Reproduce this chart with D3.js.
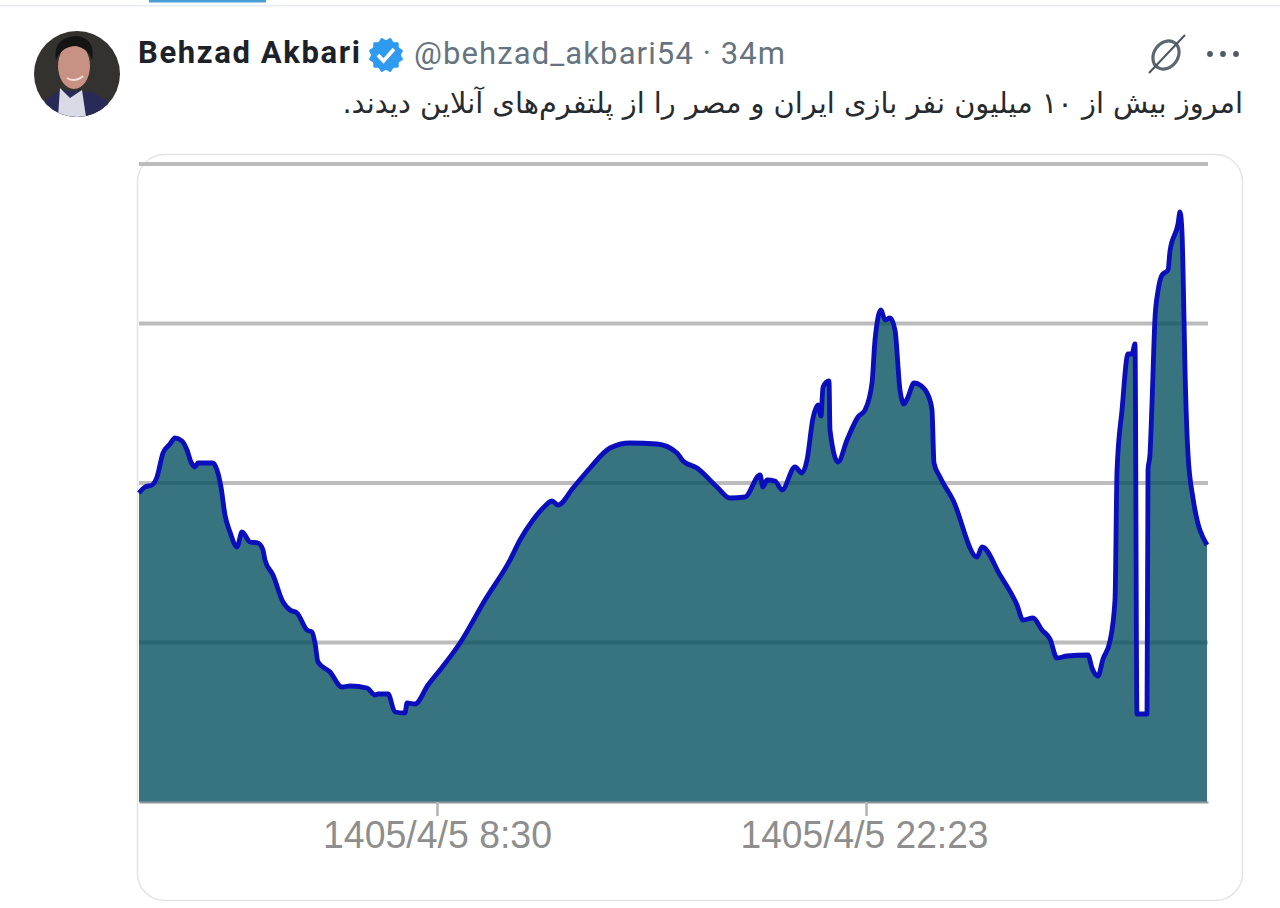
<!DOCTYPE html>
<html><head><meta charset="utf-8">
<script src="https://cdn.jsdelivr.net/npm/d3@7"></script>
<style>html,body{margin:0;padding:0;background:#fff;overflow:hidden}svg{display:block}</style>
</head><body><svg id="c" width="1280" height="908"></svg>
<script>
const sampleIndex=[0,6,13,18,24,31,36,43,48,52,56,59,74,78,82,86,91,98,103,111,119,124,126,134,144,151,158,168,173,176,179,191,203,211,228,236,239,249,256,266,268,276,289,301,321,346,371,381,394,406,413,419,434,451,471,491,518,538,544,558,578,591,606,621,624,628,636,643,656,663,668,674,679,682,684,690,691,699,708,719,726,733,736,742,746,751,756,761,765,769,775,781,789,793,795,801,814,838,843,861,878,884,894,903,911,918,928,949,953,959,964,971,976,978,983,989,993,996,998,1008,1009,1011,1013,1016,1019,1023,1029,1031,1039,1041,1043,1044,1046,1049,1054,1068];
const traffic=[309,315,317,325,349,358,364,361,352,340,335,339,339,332,315,287,270,255,270,260,259,252,242,227,200,192,189,172,170,159,140,130,115,116,114,107,108,108,90,89,99,98,117,132,159,202,242,262,282,296,301,297,314,334,354,359,358,349,341,334,315,304,305,327,315,322,321,312,335,329,342,384,397,386,415,421,372,340,362,385,392,419,462,492,482,484,472,412,398,405,419,417,407,392,339,325,302,245,255,227,197,182,184,172,163,144,146,147,134,126,143,161,202,331,392,448,448,458,88,88,332,348,399,484,511,527,532,551,578,590,570,534,433,348,304,257];
const gridValues=[159.5,319,478.5,638];
const tickSamples=[298,727];
const tickLabels=["1405/4/5 8:30","1405/4/5 22:23"];
const authorName="Behzad Akbari";
const authorHandle="@behzad_akbari54 · 34m";
const postText="امروز بیش از ۱۰ میلیون نفر بازی ایران و مصر را از پلتفرم‌های آنلاین دیدند.";

const svg=d3.select("#c");
const defs=svg.append("defs");
defs.append("clipPath").attr("id","av").append("ellipse").attr("cx",77).attr("cy",74).attr("rx",43).attr("ry",43);

// page chrome
svg.append("rect").attr("x",0).attr("y",5).attr("width",1280).attr("height",1.5).attr("fill","#e9ecee");
svg.append("rect").attr("x",149).attr("y",0).attr("width",117).attr("height",2.5).attr("fill","#4a9ed6");

// avatar
const av=svg.append("g").attr("clip-path","url(#av)");
av.append("rect").attr("x",30).attr("y",28).attr("width",95).attr("height",95).attr("fill","#33322f");
av.append("path").attr("d","M38 117 L46 100 L60 90 L92 92 L106 100 L118 117Z").attr("fill","#2a2a58");
av.append("path").attr("d","M58 117 L60 88 L70 98 L82 90 L86 117Z").attr("fill","#d8dbe6");
av.append("ellipse").attr("cx",74).attr("cy",66).attr("rx",16).attr("ry",23).attr("fill","#c79283");
av.append("path").attr("d","M56 60 Q52 38 76 36 Q96 38 92 60 Q88 48 76 46 Q62 46 56 60Z").attr("fill","#141414");
av.append("path").attr("d","M67 78 Q75 83 83 76").attr("fill","none").attr("stroke","#efe0da").attr("stroke-width",2);

// header text
svg.append("text").attr("x",138).attr("y",63).attr("font-family","Roboto, sans-serif").attr("font-weight",700).attr("font-size",31)
  .attr("textLength",222).attr("lengthAdjust","spacing").attr("fill","#1c2228").text(authorName);
svg.append("text").attr("x",414).attr("y",64).attr("font-family","Roboto, sans-serif").attr("font-size",31)
  .attr("textLength",371).attr("lengthAdjust","spacing").attr("fill","#657480").text(authorHandle);
svg.append("text").attr("x",1243).attr("y",113).attr("direction","rtl").attr("text-anchor","start").attr("font-family","'DejaVu Sans', sans-serif").attr("font-size",28.85).attr("fill","#262b30").text(postText);

// verified badge
const badge=svg.append("g").attr("transform","translate(386,55)");
const burst=d3.range(24).map(k=>{const a=k/24*2*Math.PI,r=k%2?17.5:15;return [r*Math.cos(a),r*Math.sin(a)];});
badge.append("path").attr("d",d3.line().curve(d3.curveCardinalClosed)(burst)).attr("fill","#2f9bf0");
badge.append("path").attr("d","M-8 0 L-2.5 6 L8 -6").attr("fill","none").attr("stroke","#fff").attr("stroke-width",3.6);

// mute icon and menu dots
const ic=svg.append("g").attr("transform","translate(1166,55)").attr("fill","none").attr("stroke","#5b6670");
ic.append("ellipse").attr("rx",12).attr("ry",15).attr("transform","rotate(35)").attr("stroke-width",3.2);
ic.append("line").attr("x1",-17).attr("y1",18).attr("x2",19).attr("y2",-20).attr("stroke-width",2).attr("stroke","#4a5560");
svg.append("g").selectAll("circle").data([-13,0,13]).join("circle").attr("cx",d=>1223+d).attr("cy",54).attr("r",2.9).attr("fill","#4f5a64");

// card
svg.append("rect").attr("x",137.5).attr("y",154.5).attr("width",1105).attr("height",746).attr("rx",27).attr("fill","#fff").attr("stroke","#e2e4e6").attr("stroke-width",1.5);

// chart
const x=d3.scaleLinear().domain([0,1069]).range([139,1208]);
const y=d3.scaleLinear().domain([0,638]).range([802,164]);
const points=sampleIndex.map((s,i)=>[s,traffic[i]]);

svg.append("g").selectAll("line").data(gridValues).join("line")
  .attr("x1",x(0)).attr("x2",x(1069)).attr("y1",d=>y(d)).attr("y2",d=>y(d))
  .attr("stroke","#bcbcbc").attr("stroke-width",4);

svg.append("path").datum(points)
  .attr("d",d3.area().curve(d3.curveMonotoneX).x(d=>x(d[0])).y0(y(0)).y1(d=>y(d[1])))
  .attr("fill","#065060").attr("fill-opacity",0.8);
svg.append("path").datum(points)
  .attr("d",d3.line().curve(d3.curveMonotoneX).x(d=>x(d[0])).y(d=>y(d[1])))
  .attr("fill","none").attr("stroke","#0a0ebc").attr("stroke-width",4.8).attr("stroke-linejoin","round");

const axis=svg.append("g").attr("transform",`translate(0,${y(0)})`)
  .call(d3.axisBottom(x).tickValues(tickSamples).tickFormat((d,i)=>tickLabels[i]).tickSize(14).tickSizeOuter(0).tickPadding(4));
axis.select(".domain").attr("stroke","#8b979c").attr("stroke-width",2);
axis.selectAll(".tick line").attr("stroke","#b5b5b5").attr("stroke-width",2.5);
axis.selectAll(".tick text").attr("font-family","'Liberation Sans', sans-serif").attr("font-size",39).attr("fill","#8e8e8e")
  .attr("dy","0.72em").attr("y",18)
  .attr("textLength",(d,i)=>i?248:229).attr("lengthAdjust","spacingAndGlyphs")
  .attr("dx",(d,i)=>i?-2:0);
</script></body></html>
